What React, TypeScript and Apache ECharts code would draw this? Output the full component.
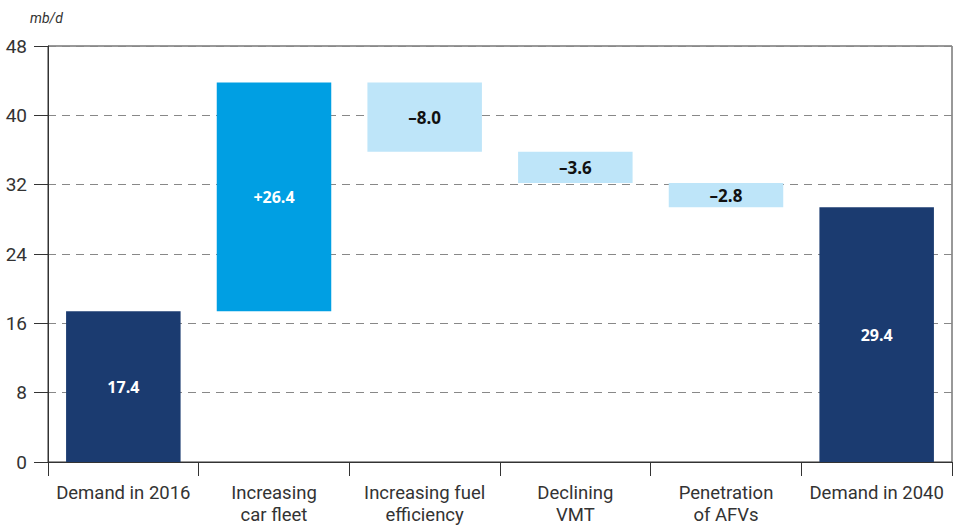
import React, { useEffect, useRef } from "react";
import * as echarts from "echarts";

const categories = [
  "Demand in 2016",
  "Increasing\ncar fleet",
  "Increasing fuel\nefficiency",
  "Declining\nVMT",
  "Penetration\nof AFVs",
  "Demand in 2040",
];
const changes = [17.4, 26.4, -8.0, -3.6, -2.8, 29.4];
const kinds = ["total", "up", "down", "down", "down", "total"];
const yTicks = [0, 8, 16, 24, 32, 40, 48];

const NAVY = "#1b3b70";
const BRIGHT = "#009fe3";
const LIGHT = "#bee5f9";

export default function App() {
  const ref = useRef<HTMLDivElement>(null);
  useEffect(() => {
    if (!ref.current) return;
    const chart = echarts.init(ref.current, undefined, { renderer: "svg" });
    let running = 0;
    const base: number[] = [];
    const heights: any[] = [];
    changes.forEach((v, i) => {
      const k = kinds[i];
      let b = 0;
      if (k === "total") {
        b = 0;
        running = v;
      } else if (k === "up") {
        b = running;
        running += v;
      } else {
        running += v;
        b = running;
      }
      base.push(+b.toFixed(2));
      const color = k === "total" ? NAVY : k === "up" ? BRIGHT : LIGHT;
      const txt =
        k === "total" ? v.toFixed(1) : v > 0 ? "+" + v.toFixed(1) : "\u2013" + Math.abs(v).toFixed(1);
      heights.push({
        value: Math.abs(v),
        itemStyle: { color },
        label: {
          formatter: txt,
          color: k === "down" ? "#111" : "#ffffff",
          fontSize: k === "down" ? 17 : 16,
        },
      });
    });
    chart.setOption({
      animation: false,
      grid: {
        left: 48,
        right: 4,
        top: 46,
        bottom: 62,
        show: true,
        borderColor: "#333",
        borderWidth: 1,
      },
      graphic: [
        {
          type: "text",
          left: 30,
          top: 11,
          style: {
            text: "mb/d",
            font: "italic 14px Roboto",
            fill: "#333",
          },
        },
      ],
      xAxis: {
        type: "category",
        data: categories,
        axisLine: { lineStyle: { color: "#333" } },
        axisTick: { show: true, length: 14, lineStyle: { color: "#333" } },
        axisLabel: {
          margin: 20,
          color: "#333",
          fontSize: 18.5,
          lineHeight: 22,
          fontFamily: "Roboto",
          interval: 0,
        },
      },
      yAxis: {
        type: "value",
        min: 0,
        max: 48,
        interval: 8,
        axisLine: { show: true, lineStyle: { color: "#333" } },
        axisTick: { show: true, length: 14, lineStyle: { color: "#333" } },
        axisLabel: {
          margin: 21,
          color: "#333",
          fontSize: 19,
          fontFamily: "Roboto",
          formatter: (v: number) => (yTicks.includes(v) ? String(v) : ""),
        },
        splitLine: {
          lineStyle: { color: "#888", type: [8, 6], width: 1 },
        },
      },
      series: [
        {
          type: "bar",
          stack: "w",
          data: base,
          itemStyle: { color: "transparent" },
          emphasis: { disabled: true },
          silent: true,
          barCategoryGap: "24%",
        },
        {
          type: "bar",
          stack: "w",
          data: heights,
          barCategoryGap: "24%",
          label: {
            show: true,
            position: "inside",
            fontWeight: "bold",
            fontFamily: "Open Sans",
          },
        },
      ],
    });
    return () => chart.dispose();
  }, []);
  return <div ref={ref} style={{ width: 956, height: 526, position: "absolute", left: 0, top: 0 }} />;
}
